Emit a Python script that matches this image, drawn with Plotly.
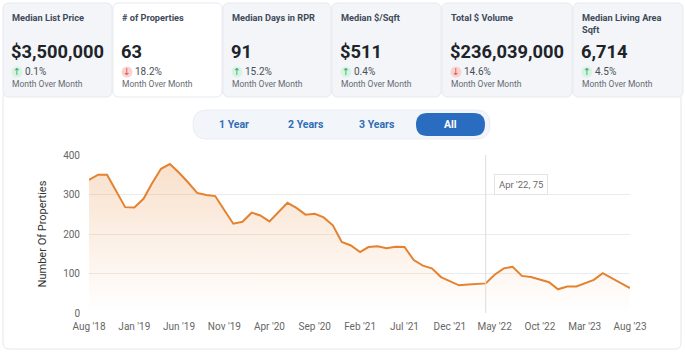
import pandas as pd
import plotly.graph_objects as go

# ---------------- data ----------------
card_titles = ["Median List Price", "# of Properties", "Median Days in RPR",
               "Median $/Sqft", "Total $ Volume", "Median Living Area<br>Sqft"]
card_values = ["$3,500,000", "63", "91", "$511", "$236,039,000", "6,714"]
card_changes = ["0.1%", "18.2%", "15.2%", "0.4%", "14.6%", "4.5%"]
card_up = [True, False, True, True, False, True]
card_sub = "Month Over Month"

range_buttons = ["1 Year", "2 Years", "3 Years", "All"]

months = pd.date_range("2018-08-01", "2023-08-01", freq="MS")
properties = [
    337, 350, 350, 309, 268,                                   # 2018 Aug-Dec
    267, 289, 327, 365, 377, 355, 331, 304, 299, 296, 260, 226,  # 2019
    231, 254, 247, 232, 255, 279, 266, 249, 251, 242, 222, 180,  # 2020
    171, 154, 167, 169, 164, 168, 167, 134, 120, 113, 91, 80,    # 2021
    70, 72, 74, 75, 97, 113, 117, 94, 91, 84, 78, 60,            # 2022
    67, 67, 75, 84, 101, 88, 75, 63,                             # 2023 Jan-Aug
]
hover_index = 44  # Apr '22

# ---------------- geometry helpers ----------------
W, H = 685, 353
L, R, T, B = 89, 55, 155, 40
PW, PH = W - L - R, H - T - B


def X(px):
    return (px - L) / PW


def Y(py):
    return 1 - (py - T) / PH


def rrect(x0, y0, x1, y1, r):
    return (f"M {X(x0+r)},{Y(y0)} L {X(x1-r)},{Y(y0)} Q {X(x1)},{Y(y0)} {X(x1)},{Y(y0+r)} "
            f"L {X(x1)},{Y(y1-r)} Q {X(x1)},{Y(y1)} {X(x1-r)},{Y(y1)} "
            f"L {X(x0+r)},{Y(y1)} Q {X(x0)},{Y(y1)} {X(x0)},{Y(y1-r)} "
            f"L {X(x0)},{Y(y0+r)} Q {X(x0)},{Y(y0)} {X(x0+r)},{Y(y0)} Z")


FONT = "Roboto, 'Noto Sans', sans-serif"
ORANGE = "#e5822f"

fig = go.Figure()
fig.add_trace(go.Scatter(
    x=months, y=properties, mode="lines",
    line=dict(color=ORANGE, width=2),
    fill="tozeroy",
    fillgradient=dict(type="vertical", start=0, stop=400,
                      colorscale=[[0, "rgba(229,130,47,0.0)"], [1, "rgba(229,130,47,0.26)"]]),
    hoverinfo="skip", showlegend=False,
))

shapes = []
annotations = []

# lower panel
shapes.append(dict(type="path", path=rrect(3, 92, 681, 349, 6), xref="paper", yref="paper",
                   fillcolor="white", line=dict(color="#e4e7eb", width=1), layer="below"))

# cards
card_x = [(3, 112), (113, 222), (223, 331), (332, 441), (442, 572), (573, 683)]
for i, (x0, x1) in enumerate(card_x):
    selected = (i == 1)
    shapes.append(dict(type="path", path=rrect(x0, 3, x1, 97, 6), xref="paper", yref="paper",
                       fillcolor="white" if selected else "#f3f5f8",
                       line=dict(color="#e6e9ee", width=1), layer="below"))
    tx = x0 + 7
    annotations.append(dict(x=X(tx), y=Y(10), xref="paper", yref="paper", xanchor="left", yanchor="top",
                            text=f"<b>{card_titles[i]}</b>", showarrow=False, align="left",
                            font=dict(family=FONT, size=9.2, color="#3f4a5a")))
    annotations.append(dict(x=X(tx - 1), y=Y(51), xref="paper", yref="paper", xanchor="left", yanchor="middle",
                            text=f"<b>{card_values[i]}</b>", showarrow=False,
                            font=dict(family=FONT, size=18.3, color="#202328")))
    up = card_up[i]
    cx, cy = x0 + 14, 72
    shapes.append(dict(type="circle", xref="paper", yref="paper",
                       x0=X(cx - 5.5), x1=X(cx + 5.5), y0=Y(cy - 5.5), y1=Y(cy + 5.5),
                       fillcolor="#d8f3e3" if up else "#f9d3d1", line=dict(width=0), layer="above"))
    annotations.append(dict(x=X(cx), y=Y(cy), xref="paper", yref="paper", xanchor="center", yanchor="middle",
                            text="↑" if up else "↓", showarrow=False,
                            font=dict(family="DejaVu Sans", size=9.5, color="#2aa862" if up else "#e0514b")))
    annotations.append(dict(x=X(cx + 6), y=Y(cy), xref="paper", yref="paper", xanchor="left", yanchor="middle",
                            text=card_changes[i], showarrow=False,
                            font=dict(family=FONT, size=10, color="#4a4f57")))
    annotations.append(dict(x=X(tx), y=Y(84), xref="paper", yref="paper", xanchor="left", yanchor="middle",
                            text=card_sub, showarrow=False,
                            font=dict(family=FONT, size=8.5, color="#666b73")))

# range selector pill
shapes.append(dict(type="path", path=rrect(193, 110, 490, 139, 14), xref="paper", yref="paper",
                   fillcolor="#f2f5f9", line=dict(color="#e9edf2", width=1), layer="below"))
shapes.append(dict(type="path", path=rrect(416, 113, 485, 136, 11.5), xref="paper", yref="paper",
                   fillcolor="#2a6cbf", line=dict(width=0), layer="above"))
btn_cx = [234, 306, 377, 450]
for lbl, bx in zip(range_buttons, btn_cx):
    annotations.append(dict(x=X(bx), y=Y(125), xref="paper", yref="paper", xanchor="center", yanchor="middle",
                            text=f"<b>{lbl}</b>", showarrow=False,
                            font=dict(family=FONT, size=10.5, color="white" if lbl == "All" else "#2f6db6")))

# crosshair + tooltip
shapes.append(dict(type="line", xref="x", yref="paper", x0=months[hover_index], x1=months[hover_index],
                   y0=0, y1=1, line=dict(color="#dcdcdc", width=1), layer="above"))
annotations.append(dict(x=months[hover_index], y=Y(184), xref="x", yref="paper", xanchor="left", yanchor="middle",
                        xshift=8, text=f"{months[hover_index].strftime('%b')} '{months[hover_index].strftime('%y')}, {properties[hover_index]}",
                        showarrow=False, bgcolor="white", bordercolor="#e3e3e3", borderwidth=1, borderpad=4,
                        font=dict(family=FONT, size=9.5, color="#6a6a6a")))

fig.update_layout(
    width=W, height=H,
    margin=dict(l=L, r=R, t=T, b=B),
    paper_bgcolor="white", plot_bgcolor="rgba(0,0,0,0)",
    shapes=shapes, annotations=annotations,
    font=dict(family=FONT),
    xaxis=dict(range=[months[0], months[-1]], tickformat="%b '%y", dtick="M5", tick0=months[0],
               showgrid=False, zeroline=False, showline=False, ticks="",
               tickfont=dict(family=FONT, size=10, color="#666"), ticklabelstandoff=6),
    yaxis=dict(range=[0, 400], dtick=100, showgrid=True, gridcolor="#ebebeb", gridwidth=1,
               zeroline=False, showline=False, ticks="",
               tickfont=dict(family=FONT, size=10, color="#666"), ticklabelstandoff=8,
               title=dict(text="Number Of Properties", font=dict(family=FONT, size=11, color="#333"),
                          standoff=14)),
    hovermode=False,
)

fig.write_html("out.html")
